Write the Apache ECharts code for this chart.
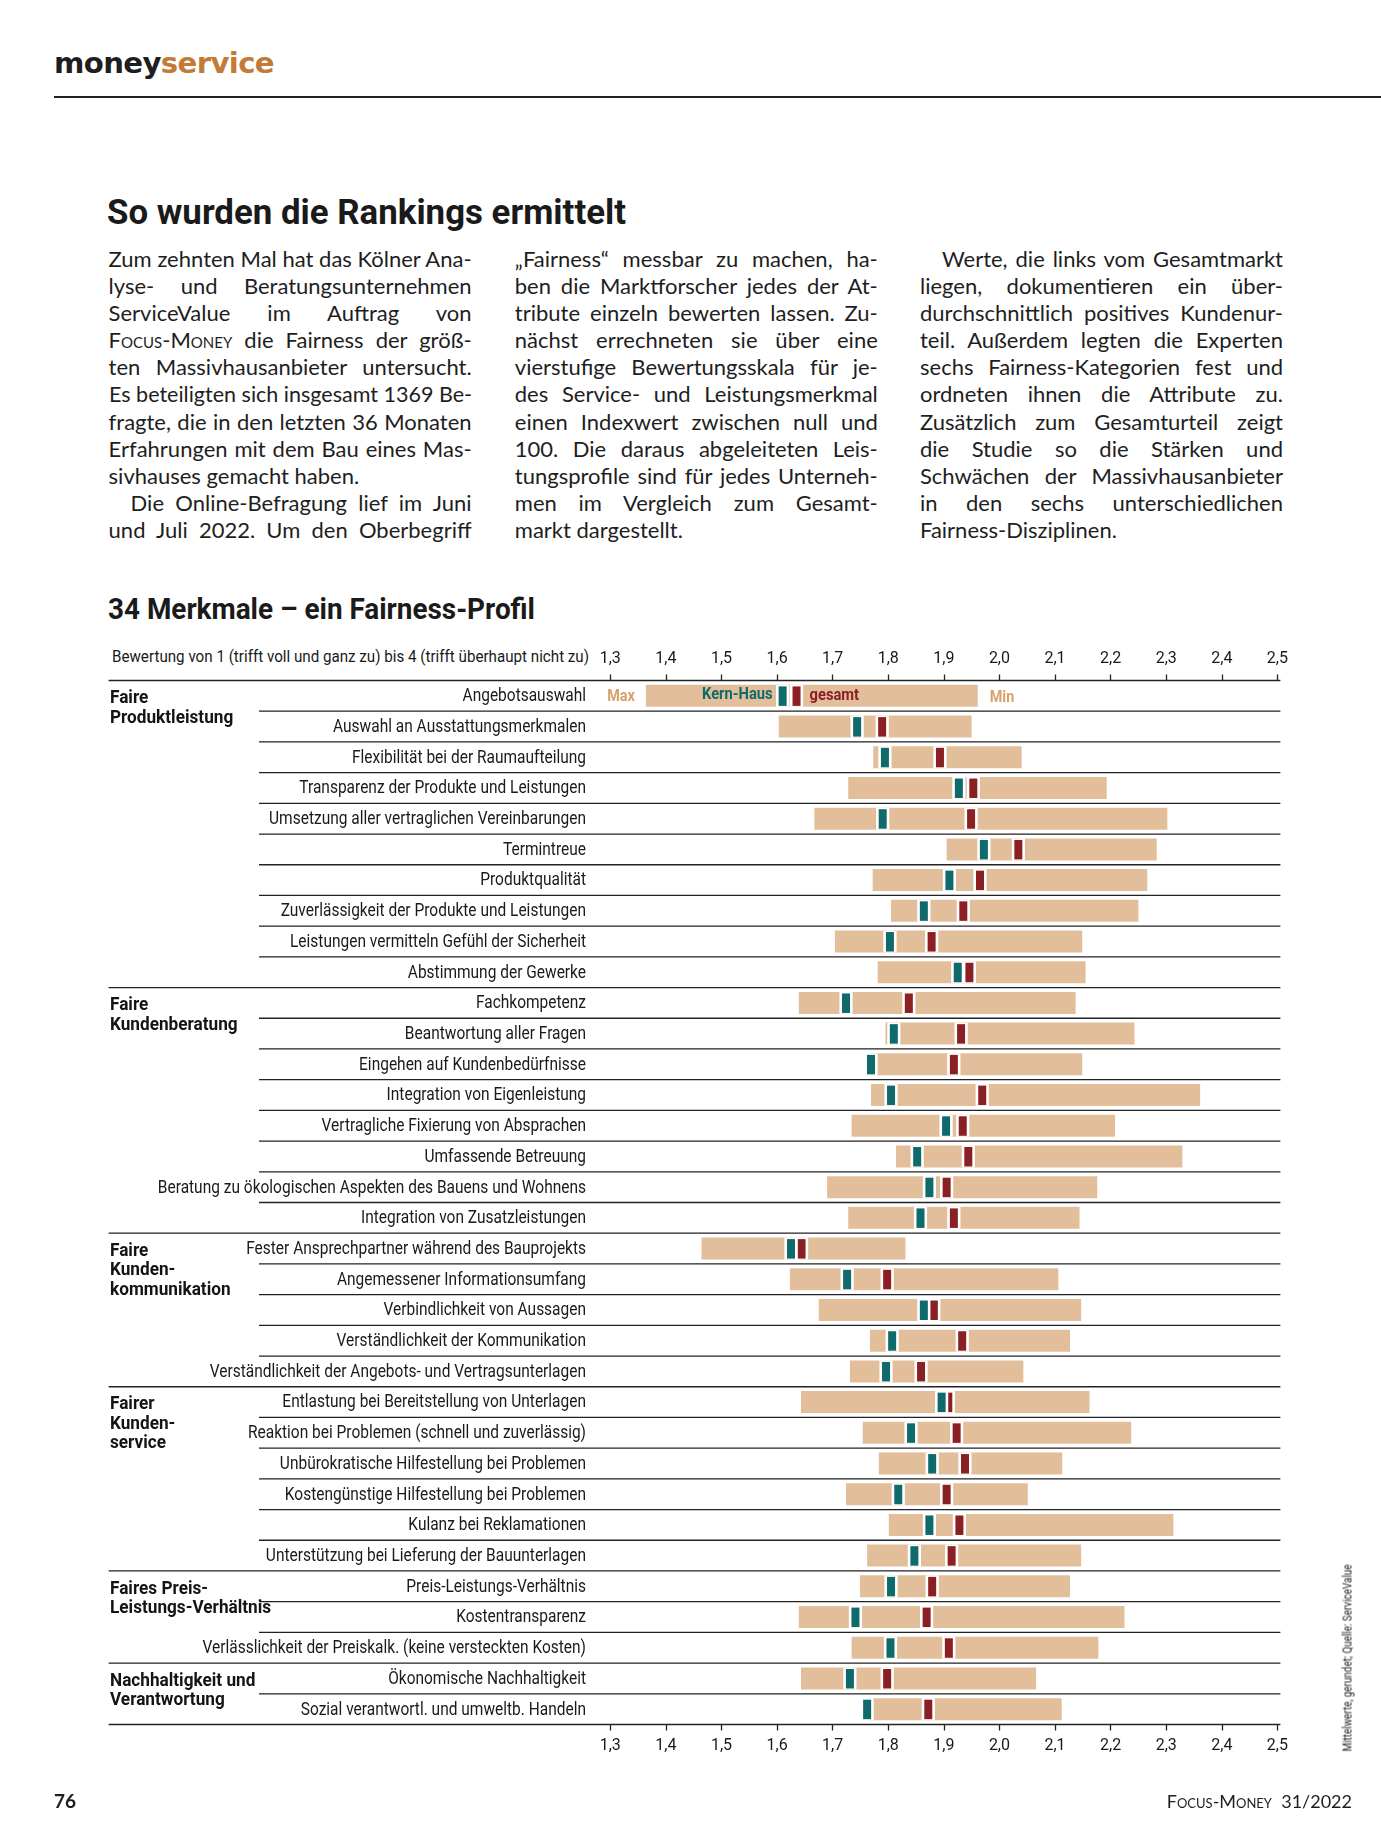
<!DOCTYPE html>
<html>
<head>
<meta charset="utf-8">
<script src="https://cdn.jsdelivr.net/npm/echarts@6/dist/echarts.min.js"></script>
<style>
  html, body { margin:0; padding:0; background:#fff; }
  body { width:1381px; height:1830px; position:relative; overflow:hidden; color:#1e1e1e; }
  .abs { position:absolute; }
  .fit { display:inline-block; white-space:nowrap; transform-origin:left center; }
  #brand { left:54px; top:45px; font-family:"DejaVu Sans", sans-serif; font-weight:bold; font-size:28px; letter-spacing:-0.6px; line-height:38px; }
  #brand .s { color:#c27a37; }
  #rule { left:54px; right:0; top:96px; height:1.5px; background:#222; }
  #title { left:107px; top:192px; font-family:Roboto,sans-serif; font-weight:bold; font-size:35px; line-height:42px; color:#1a1a1a; }
  .col { position:absolute; top:245px; width:363px; }
  .ln { height:27.1px; line-height:27.1px; font-family:Lato,"Open Sans",sans-serif; font-size:22px; color:#1e1e1e; white-space:nowrap; }
  .sc { font-variant:small-caps; }
  #sub { left:108px; top:591px; font-family:Roboto,sans-serif; font-weight:bold; font-size:29px; line-height:36px; color:#1a1a1a; }
  #hdr { left:112px; top:647px; font-family:Roboto,sans-serif; font-size:16px; line-height:20px; color:#1a1a1a; }
  #chart { left:0; top:640px; width:1381px; height:1190px; }
  #pg { left:54px; top:1789px; font-family:Lato,sans-serif; font-weight:bold; font-size:19px; line-height:24px; z-index:2; }
  #fm { right:29px; top:1789px; font-family:Lato,sans-serif; font-size:18px; line-height:24px; z-index:2; }
  #src { left:1348px; top:1658px; font-family:Roboto,sans-serif; font-size:12px; line-height:13px; white-space:nowrap; z-index:2; }
</style>
</head>
<body>
<div id="brand" class="abs fit">money<span class="s">service</span></div>
<div id="rule" class="abs"></div>
<div id="title" class="abs fit">So wurden die Rankings ermittelt</div>
<div id="c1" class="col" style="left:108.6px"></div>
<div id="c2" class="col" style="left:514.8px"></div>
<div id="c3" class="col" style="left:920px"></div>
<div id="sub" class="abs fit">34 Merkmale – ein Fairness-Profil</div>
<div id="hdr" class="abs fit">Bewertung von 1 (trifft voll und ganz zu) bis 4 (trifft überhaupt nicht zu)</div>
<div id="chart" class="abs"></div>
<div id="pg" class="abs">76</div>
<div id="fm" class="abs"><span class="sc">Focus-Money</span>&nbsp; 31/2022</div>
<div id="src" class="abs">Mittelwerte, gerundet; Quelle: ServiceValue</div>
<script>
// ---------- article text (line by line as printed) ----------
// mode: j = justified, l = last line of paragraph, i = indented + justified
const column1 = [
  ['Zum zehnten Mal hat das Kölner Ana-','j'],
  ['lyse- und Beratungsunternehmen','j'],
  ['ServiceValue im Auftrag von','j'],
  ['<span class="sc">Focus-Money</span> die Fairness der größ-','j'],
  ['ten Massivhausanbieter untersucht.','j'],
  ['Es beteiligten sich insgesamt 1369 Be-','j'],
  ['fragte, die in den letzten 36 Monaten','j'],
  ['Erfahrungen mit dem Bau eines Mas-','j'],
  ['sivhauses gemacht haben.','l'],
  ['Die Online-Befragung lief im Juni','i'],
  ['und Juli 2022. Um den Oberbegriff','j']
];
const column2 = [
  ['„Fairness“ messbar zu machen, ha-','j'],
  ['ben die Marktforscher jedes der At-','j'],
  ['tribute einzeln bewerten lassen. Zu-','j'],
  ['nächst errechneten sie über eine','j'],
  ['vierstufige Bewertungsskala für je-','j'],
  ['des Service- und Leistungsmerkmal','j'],
  ['einen Indexwert zwischen null und','j'],
  ['100. Die daraus abgeleiteten Leis-','j'],
  ['tungsprofile sind für jedes Unterneh-','j'],
  ['men im Vergleich zum Gesamt-','j'],
  ['markt dargestellt.','l']
];
const column3 = [
  ['Werte, die links vom Gesamtmarkt','i'],
  ['liegen, dokumentieren ein über-','j'],
  ['durchschnittlich positives Kundenur-','j'],
  ['teil. Außerdem legten die Experten','j'],
  ['sechs Fairness-Kategorien fest und','j'],
  ['ordneten ihnen die Attribute zu.','j'],
  ['Zusätzlich zum Gesamturteil zeigt','j'],
  ['die Studie so die Stärken und','j'],
  ['Schwächen der Massivhausanbieter','j'],
  ['in den sechs unterschiedlichen','j'],
  ['Fairness-Disziplinen.','l']
];
function buildColumn(id, lines) {
  const col = document.getElementById(id);
  const W = 363, IND = 22;
  lines.forEach(([html, mode]) => {
    const d = document.createElement('div');
    d.className = 'ln';
    const avail = mode === 'i' ? W - IND : W;
    if (mode === 'i') d.style.paddingLeft = IND + 'px';
    const sp = document.createElement('span');
    sp.innerHTML = html;
    d.appendChild(sp);
    col.appendChild(d);
    const w = sp.getBoundingClientRect().width;
    if (w > avail) {
      sp.style.display = 'inline-block';
      sp.style.transformOrigin = 'left center';
      sp.style.transform = 'scaleX(' + (avail / w) + ')';
    } else if (mode !== 'l') {
      d.style.whiteSpace = 'normal';
      d.style.textAlign = 'justify';
      d.style.textAlignLast = 'justify';
      d.style.width = avail + 'px';
    }
  });
}
buildColumn('c1', column1);
buildColumn('c2', column2);
buildColumn('c3', column3);
function fitWidth(id, target) {
  const el = document.getElementById(id);
  const w = el.getBoundingClientRect().width;
  el.style.transform = 'scaleX(' + (target / w) + ')';
}
fitWidth('brand', 220);
fitWidth('title', 519);
fitWidth('sub', 427);
fitWidth('hdr', 477);
(function () {
  const el = document.getElementById('src');
  const w = el.getBoundingClientRect().width;
  el.style.transform = 'translate(-50%,-50%) rotate(-90deg) scaleX(' + (187 / w) + ')';
})();

// ---------- chart data ----------
const categories = [
  'Angebotsauswahl',
  'Auswahl an Ausstattungsmerkmalen',
  'Flexibilität bei der Raumaufteilung',
  'Transparenz der Produkte und Leistungen',
  'Umsetzung aller vertraglichen Vereinbarungen',
  'Termintreue',
  'Produktqualität',
  'Zuverlässigkeit der Produkte und Leistungen',
  'Leistungen vermitteln Gefühl der Sicherheit',
  'Abstimmung der Gewerke',
  'Fachkompetenz',
  'Beantwortung aller Fragen',
  'Eingehen auf Kundenbedürfnisse',
  'Integration von Eigenleistung',
  'Vertragliche Fixierung von Absprachen',
  'Umfassende Betreuung',
  'Beratung zu ökologischen Aspekten des Bauens und Wohnens',
  'Integration von Zusatzleistungen',
  'Fester Ansprechpartner während des Bauprojekts',
  'Angemessener Informationsumfang',
  'Verbindlichkeit von Aussagen',
  'Verständlichkeit der Kommunikation',
  'Verständlichkeit der Angebots- und Vertragsunterlagen',
  'Entlastung bei Bereitstellung von Unterlagen',
  'Reaktion bei Problemen (schnell und zuverlässig)',
  'Unbürokratische Hilfestellung bei Problemen',
  'Kostengünstige Hilfestellung bei Problemen',
  'Kulanz bei Reklamationen',
  'Unterstützung bei Lieferung der Bauunterlagen',
  'Preis-Leistungs-Verhältnis',
  'Kostentransparenz',
  'Verlässlichkeit der Preiskalk. (keine versteckten Kosten)',
  'Ökonomische Nachhaltigkeit',
  'Sozial verantwortl. und umweltb. Handeln'
];
// best value in the market (Max), Kern-Haus, market average (gesamt), worst value (Min)
const maxValues = [1.364,1.603,1.773,1.728,1.667,1.905,1.772,1.805,1.704,1.781,
                   1.639,1.795,1.769,1.769,1.734,1.814,1.690,1.728,
                   1.464,1.623,1.675,1.767,1.731,
                   1.643,1.754,1.783,1.724,1.801,1.762,
                   1.749,1.639,1.734,
                   1.643,1.762];
const kernHausValues = [1.610,1.744,1.794,1.927,1.790,1.972,1.910,1.864,1.803,1.925,
                   1.724,1.810,1.769,1.805,1.904,1.852,1.874,1.858,
                   1.625,1.726,1.864,1.807,1.796,
                   1.896,1.841,1.879,1.818,1.874,1.847,
                   1.805,1.741,1.804,
                   1.731,1.762];
const gesamtValues = [1.635,1.789,1.893,1.953,1.949,2.034,1.965,1.935,1.878,1.946,
                   1.837,1.931,1.918,1.969,1.934,1.944,1.905,1.918,
                   1.644,1.798,1.882,1.933,1.859,
                   1.908,1.923,1.938,1.905,1.928,1.914,
                   1.879,1.869,1.909,
                   1.798,1.872];
const minValues = [1.961,1.950,2.040,2.193,2.302,2.283,2.266,2.250,2.149,2.155,
                   2.137,2.243,2.149,2.361,2.208,2.329,2.176,2.144,
                   1.831,2.106,2.147,2.127,2.043,
                   2.162,2.237,2.113,2.051,2.313,2.147,
                   2.127,2.225,2.178,
                   2.066,2.112];
const groupNames = ['Faire\nProduktleistung','Faire\nKundenberatung','Faire\nKunden-\nkommunikation',
                    'Fairer\nKunden-\nservice','Faires Preis-\nLeistungs-Verhältnis','Nachhaltigkeit und\nVerantwortung'];
const groupStarts = [0, 10, 18, 23, 29, 32];
const axisMin = 1.3, axisMax = 2.5, axisStep = 0.1;

const C_TAN = '#e2bf9a', C_TEAL = '#0f6a6c', C_RED = '#8a1f24', C_LEG = '#d9a06c', C_LINE = '#222';
const FONT = 'Roboto, sans-serif';
const LEFT_FULL = 108.6, LEFT_ROW = 259, LABEL_RIGHT = 586;

const seriesData = categories.map((c, i) => [i, maxValues[i], kernHausValues[i], gesamtValues[i], minValues[i]]);

function renderItem(params, api) {
  const i = api.value(0);
  const p = api.coord([api.value(1), i]);
  const yc = p[1];
  const band = api.size([0, 1])[1];
  const xMax = p[0];
  const xKh = api.coord([api.value(2), i])[0];
  const xG = api.coord([api.value(3), i])[0];
  const xMin = api.coord([api.value(4), i])[0];
  const xRight = api.coord([axisMax, i])[0] + 3;
  const h = 22, mw = 8, gap = 2.6, mh = 19.5;
  const ch = [];
  const yTop = yc - band / 2;
  const gIdx = groupStarts.indexOf(i);
  ch.push({ type:'line', shape:{ x1: gIdx >= 0 ? LEFT_FULL : LEFT_ROW, y1: yTop, x2: xRight, y2: yTop },
            style:{ stroke: C_LINE, lineWidth: 1.3 } });
  if (i === categories.length - 1) {
    ch.push({ type:'line', shape:{ x1: LEFT_FULL, y1: yc + band / 2, x2: xRight, y2: yc + band / 2 },
              style:{ stroke: C_LINE, lineWidth: 1.3 } });
  }
  // row label
  ch.push({ type:'text', x: LABEL_RIGHT, y: yc + 1, scaleX: 0.885,
            style:{ text: categories[i], fill:'#1a1a1a', fontFamily: FONT, fontSize: 17.5,
                    align:'right', verticalAlign:'middle' } });
  ch.push({ type:'rect', shape:{ x: xMax, y: yc - h / 2, width: xMin - xMax, height: h }, style:{ fill: C_TAN } });
  ch.push({ type:'rect', shape:{ x: xG - mw / 2 - gap, y: yc - h / 2, width: mw + 2 * gap, height: h }, style:{ fill: '#fff' } });
  ch.push({ type:'rect', shape:{ x: xG - mw / 2, y: yc - mh / 2 + 0.3, width: mw, height: mh }, style:{ fill: C_RED } });
  ch.push({ type:'rect', shape:{ x: xKh - mw / 2 - gap, y: yc - h / 2, width: mw + 2 * gap, height: h }, style:{ fill: '#fff' } });
  ch.push({ type:'rect', shape:{ x: xKh - mw / 2, y: yc - mh / 2 + 0.3, width: mw, height: mh }, style:{ fill: C_TEAL } });
  if (gIdx >= 0) {
    ch.push({ type:'text', x: 110, y: yc - 7, scaleX: 0.955,
              style:{ text: groupNames[gIdx], fill:'#141414', fontFamily: FONT, fontWeight:'bold', fontSize: 18,
                      lineHeight: 19.5, align:'left', verticalAlign:'top' } });
  }
  if (i === 0) {
    const f = { fontFamily: FONT, fontSize: 16, fontWeight: 'bold', verticalAlign: 'middle' };
    ch.push({ type:'text', x: xMax - 11, y: yc + 1, scaleX: 0.9, style: Object.assign({ text:'Max', fill: C_LEG, align:'right' }, f) });
    ch.push({ type:'text', x: xMin + 12, y: yc + 2, scaleX: 0.9, style: Object.assign({ text:'Min', fill: C_LEG, align:'left' }, f) });
    ch.push({ type:'text', x: xKh - 10, y: yc - 1, scaleX: 0.92, style: Object.assign({ text:'Kern-Haus', fill: C_TEAL, align:'right' }, f) });
    ch.push({ type:'text', x: xG + 13, y: yc, scaleX: 0.92, style: Object.assign({ text:'gesamt', fill: C_RED, align:'left' }, f) });
  }
  return { type:'group', children: ch };
}

const fmt = v => v.toFixed(1).replace('.', ',');
const axisCommon = {
  type:'value', min: axisMin, max: axisMax, interval: axisStep,
  axisLine:{ show:false }, splitLine:{ show:false },
  axisTick:{ show:true, length:6, lineStyle:{ color: C_LINE, width:1.3 } }
};
const chart = echarts.init(document.getElementById('chart'), null, { renderer:'canvas' });
chart.setOption({
  animation:false,
  grid:{ left:610.3, right:103.6, top:40.5, height:1044 },
  xAxis:[
    Object.assign({ position:'bottom', axisLabel:{ formatter: fmt, margin:13, fontFamily: FONT, fontSize:16, color:'#1a1a1a' } }, axisCommon),
    Object.assign({ position:'top', axisLabel:{ formatter: fmt, margin:14, fontFamily: FONT, fontSize:16, color:'#1a1a1a' } }, axisCommon)
  ],
  yAxis:{
    type:'category', data: categories, inverse:true,
    axisLine:{ show:false }, axisTick:{ show:false }, splitLine:{ show:false },
    axisLabel:{ show:false }
  },
  series:[{
    type:'custom', renderItem, data: seriesData, xAxisIndex:0, yAxisIndex:0,
    encode:{ x:[1,2,3,4], y:0 }, clip:false, silent:true
  }]
});
</script>
</body>
</html>
